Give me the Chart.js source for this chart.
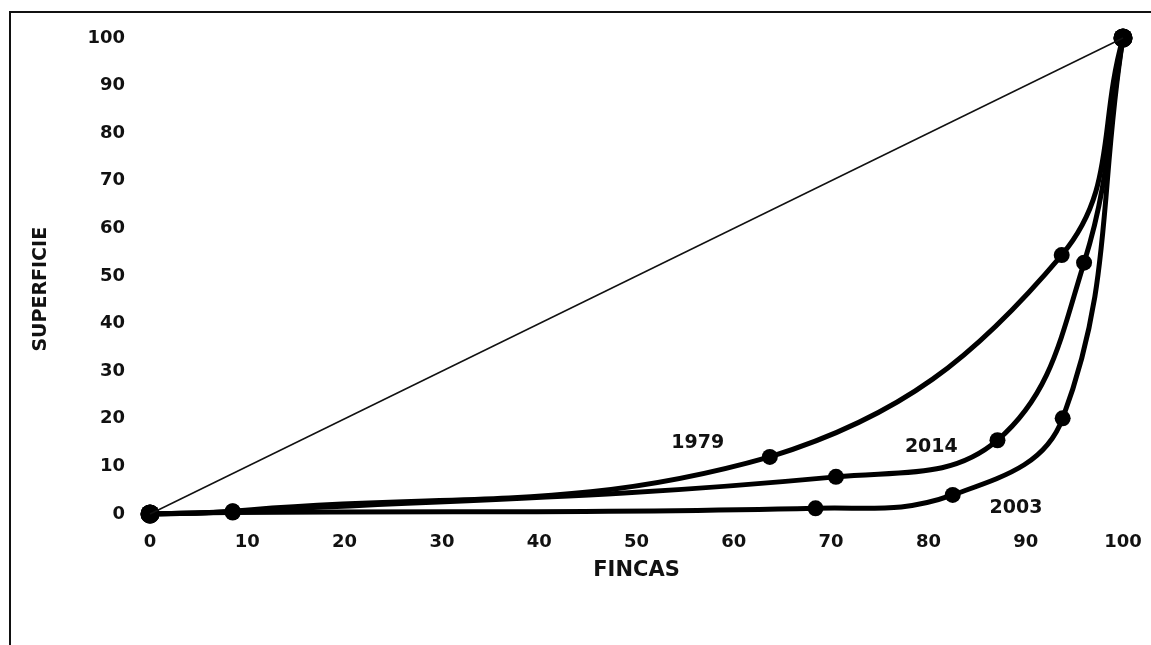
<!DOCTYPE html>
<html>
<head>
<meta charset="utf-8">
<script src="https://cdn.jsdelivr.net/npm/chart.js@4.4.1/dist/chart.umd.min.js"></script>
<style>
  html, body { margin: 0; padding: 0; background: #fff; overflow: hidden; }
  #wrap { position: relative; width: 1151px; height: 645px; }
  #frame { position: absolute; left: 9px; top: 11px; width: 1200px; height: 700px;
           border-left: 2px solid #111; border-top: 2px solid #111; }
  #c { position: absolute; left: 0; top: 0; }
</style>
</head>
<body>
<div id="wrap">
  <div id="frame"></div>
  <canvas id="c" width="1151" height="645"></canvas>
</div>
<script>
// ---- Data ----
const xTicks = [0, 10, 20, 30, 40, 50, 60, 70, 80, 90, 100];
const yTicks = [0, 10, 20, 30, 40, 50, 60, 70, 80, 90, 100];

const equalityX = [0, 100];
const equalityY = [0, 100];

const fincas1979 = [0, 8.5, 63.7, 93.7, 100];
const superficie1979 = [0, 0.6, 12.0, 54.4, 100];

const fincas2014 = [0, 8.5, 70.5, 87.1, 96.0, 100];
const superficie2014 = [0, 0.5, 7.8, 15.5, 52.8, 100];

const fincas2003 = [0, 8.5, 68.4, 82.5, 93.8, 100];
const superficie2003 = [0, 0.3, 1.2, 4.0, 20.1, 100];

const seriesNames = ['1979', '2014', '2003'];
const labelX = [56.3, 80.3, 89.0];
const labelY = [14.9, 14.1, 1.3];

const xTitle = 'FINCAS';
const yTitle = 'SUPERFICIE';

// ---- Build ----
function pts(xs, ys) { return xs.map((x, i) => ({ x: x, y: ys[i] })); }

const radiusFn = (ctx) => {
  const n = ctx.dataset.data.length;
  return (ctx.dataIndex === 0 || ctx.dataIndex === n - 1) ? 9.5 : 8;
};

const curveStyle = {
  borderColor: '#000',
  backgroundColor: '#000',
  pointBackgroundColor: '#000',
  pointBorderColor: '#000',
  borderWidth: 5,
  pointRadius: radiusFn,
  pointBorderWidth: 0,
  tension: 0.4,
  fill: false,
  clip: false
};

const seriesLabels = {
  id: 'seriesLabels',
  afterDatasetsDraw(chart) {
    const { ctx, scales } = chart;
    ctx.save();
    ctx.fillStyle = '#111';
    ctx.font = 'bold 19px "DejaVu Sans"';
    ctx.textAlign = 'center';
    ctx.textBaseline = 'middle';
    seriesNames.forEach((name, i) => {
      ctx.fillText(name, scales.x.getPixelForValue(labelX[i]), scales.y.getPixelForValue(labelY[i]));
    });
    ctx.restore();
  }
};

const tickFont = { family: '"DejaVu Sans"', size: 18, weight: 'bold' };

new Chart(document.getElementById('c'), {
  type: 'scatter',
  data: {
    datasets: [
      { label: 'Igualdad', data: pts(equalityX, equalityY), showLine: true,
        borderColor: '#111', borderWidth: 1.5, pointRadius: 0, fill: false, clip: false },
      Object.assign({ label: seriesNames[0], data: pts(fincas1979, superficie1979), showLine: true }, curveStyle),
      Object.assign({ label: seriesNames[1], data: pts(fincas2014, superficie2014), showLine: true }, curveStyle),
      Object.assign({ label: seriesNames[2], data: pts(fincas2003, superficie2003), showLine: true }, curveStyle)
    ]
  },
  options: {
    responsive: false,
    animation: false,
    layout: { padding: { left: 0, top: 38, right: 28, bottom: 0 } },
    plugins: { legend: { display: false }, tooltip: { enabled: false }, title: { display: false } },
    scales: {
      x: {
        type: 'linear', min: 0, max: 100,
        afterBuildTicks: (s) => { s.ticks = xTicks.map(v => ({ value: v })); },
        afterFit: (s) => { s.height = 131; s.paddingLeft = 0; s.paddingRight = 0; },
        grid: { display: false, drawTicks: false },
        border: { display: false },
        ticks: { color: '#111', font: tickFont, padding: 18, maxRotation: 0, autoSkip: false },
        title: { display: true, text: xTitle, color: '#111',
                 font: { family: '"DejaVu Sans"', size: 21, weight: 'bold' },
                 padding: { top: 0, bottom: 62 } }
      },
      y: {
        type: 'linear', min: 0, max: 100,
        afterBuildTicks: (s) => { s.ticks = yTicks.map(v => ({ value: v })); },
        afterFit: (s) => { s.width = 150; s.paddingTop = 0; s.paddingBottom = 0; },
        grid: { display: false, drawTicks: false },
        border: { display: false },
        ticks: { color: '#111', font: tickFont, padding: 25, autoSkip: false },
        title: { display: true, text: yTitle + '\u00a0\u00a0\u00a0\u00a0', color: '#111',
                 font: { family: '"DejaVu Sans"', size: 19, weight: 'bold' },
                 padding: { top: 30, bottom: 0 } }
      }
    }
  },
  plugins: [seriesLabels]
});
</script>
</body>
</html>
